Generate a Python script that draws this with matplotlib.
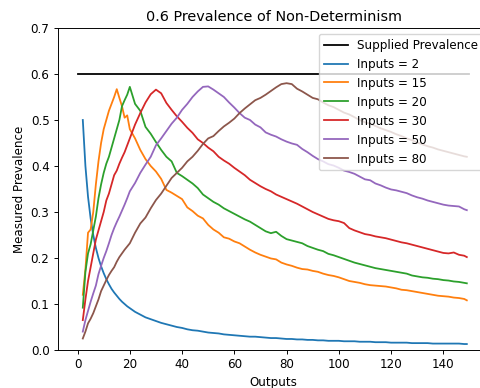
import matplotlib
matplotlib.use("Agg")
import matplotlib.pyplot as plt

# outputs (x axis) shared by every measured series
outputs = [2, 3, 4, 5, 6, 7, 8, 9, 10, 11,
           12, 13, 14, 15, 16, 17, 18, 19, 20, 22,
           24, 26, 28, 30, 32, 34, 36, 38, 40, 42,
           44, 46, 48, 50, 52, 54, 56, 58, 60, 62,
           64, 66, 68, 70, 72, 74, 76, 78, 80, 82,
           84, 86, 88, 90, 92, 94, 96, 98, 100, 102,
           104, 106, 108, 110, 112, 114, 116, 118, 120, 122,
           124, 126, 128, 130, 132, 134, 136, 138, 140, 142,
           144, 146, 148, 149]

supplied_x = [0, 150]
supplied_y = [0.6, 0.6]

inputs_2 = [.500, .400, .333, .286, .250, .222, .200, .182, .167, .154,
            .143, .133, .125, .118, .111, .105, .100, .095, .091, .083,
            .077, .071, .067, .063, .059, .056, .053, .050, .048, .045,
            .043, .042, .040, .038, .037, .036, .034, .033, .032, .031,
            .030, .029, .029, .028, .027, .026, .026, .025, .024, .024,
            .023, .023, .022, .022, .021, .021, .020, .020, .020, .019,
            .019, .019, .018, .018, .018, .017, .017, .017, .016, .016,
            .016, .016, .015, .015, .015, .015, .014, .014, .014, .014,
            .014, .014, .013, .013]

inputs_15 = [.120, .175, .255, .262, .300, .360, .410, .450, .480, .500,
             .520, .535, .550, .567, .548, .530, .505, .510, .480, .460,
             .435, .415, .400, .388, .372, .348, .342, .335, .328, .310,
             .302, .292, .286, .272, .262, .255, .245, .242, .236, .232,
             .225, .218, .212, .207, .203, .199, .197, .190, .186, .183,
             .179, .176, .175, .172, .170, .166, .163, .161, .158, .154,
             .150, .148, .146, .143, .141, .140, .139, .138, .136, .134,
             .131, .130, .128, .126, .124, .122, .120, .118, .117, .116,
             .114, .113, .111, .108]

inputs_20 = [.092, .170, .210, .230, .260, .290, .330, .360, .385, .405,
             .420, .440, .460, .480, .500, .530, .543, .555, .572, .535,
             .520, .485, .470, .452, .435, .420, .410, .385, .378, .370,
             .362, .352, .338, .330, .322, .316, .308, .302, .296, .290,
             .284, .279, .272, .265, .258, .254, .257, .248, .241, .238,
             .235, .232, .226, .222, .218, .215, .209, .206, .202, .198,
             .194, .190, .187, .184, .181, .178, .176, .174, .172, .170,
             .168, .166, .162, .160, .158, .157, .155, .154, .152, .151,
             .149, .148, .146, .145]

inputs_30 = [.065, .110, .150, .180, .210, .240, .260, .280, .300, .325,
             .340, .360, .380, .390, .405, .418, .430, .445, .460, .490,
             .515, .538, .556, .566, .558, .537, .522, .508, .496, .483,
             .472, .458, .450, .440, .432, .420, .412, .405, .396, .388,
             .380, .370, .363, .356, .350, .345, .338, .333, .328, .323,
             .318, .312, .306, .300, .295, .290, .285, .282, .280, .276,
             .265, .260, .256, .252, .250, .247, .245, .243, .240, .237,
             .234, .232, .229, .226, .223, .220, .217, .214, .211, .210,
             .212, .207, .205, .202]

inputs_50 = [.040, .065, .085, .105, .123, .140, .165, .183, .200, .215,
             .232, .250, .265, .278, .290, .303, .316, .330, .345, .363,
             .385, .403, .420, .445, .460, .476, .492, .505, .522, .535,
             .550, .562, .572, .573, .566, .558, .550, .538, .527, .515,
             .505, .500, .490, .484, .473, .468, .464, .458, .453, .449,
             .446, .437, .430, .422, .415, .410, .404, .401, .396, .390,
             .387, .383, .377, .371, .369, .362, .358, .353, .349, .347,
             .344, .341, .336, .332, .329, .325, .322, .319, .316, .314,
             .313, .312, .306, .304]

inputs_80 = [.025, .040, .058, .068, .080, .095, .110, .128, .140, .152,
             .163, .172, .180, .192, .202, .210, .218, .225, .232, .255,
             .275, .288, .308, .326, .340, .357, .374, .385, .396, .410,
             .420, .433, .448, .460, .465, .476, .486, .494, .503, .515,
             .525, .534, .543, .548, .555, .563, .571, .578, .580, .578,
             .568, .562, .555, .548, .545, .538, .532, .528, .522, .516,
             .512, .506, .500, .495, .492, .487, .482, .478, .474, .469,
             .465, .460, .456, .451, .447, .443, .440, .436, .433, .430,
             .427, .424, .421, .420]

series = [("Inputs = 2", inputs_2), ("Inputs = 15", inputs_15),
          ("Inputs = 20", inputs_20), ("Inputs = 30", inputs_30),
          ("Inputs = 50", inputs_50), ("Inputs = 80", inputs_80)]

# the reference looks like a default figure shrunk to ~86%
k = 0.86
plt.rcParams.update({
    "font.size": 10 * k,
    "lines.linewidth": 1.5 * k,
    "axes.linewidth": 0.8 * k,
    "xtick.major.size": 3.5 * k, "ytick.major.size": 3.5 * k,
    "xtick.major.width": 0.8 * k, "ytick.major.width": 0.8 * k,
    "xtick.major.pad": 3.5 * k, "ytick.major.pad": 3.5 * k,
    "axes.titlepad": 6 * k,
    "axes.labelpad": 4 * k,
    "legend.fontsize": 10 * k,
})

fig = plt.figure(figsize=(4.8, 3.88), dpi=100)
# axes run past the right edge, like the cropped original
ax = fig.add_axes([0.1208, 0.0979, 0.898, 0.830])

ax.plot(supplied_x, supplied_y, color="black", label="Supplied Prevalence")
for name, vals in series:
    ax.plot(outputs, vals, label=name)

ax.set_ylim(0, 0.7)
ax.set_title("0.6 Prevalence of Non-Determinism", fontsize=12 * k)
ax.set_xlabel("Outputs")
ax.set_ylabel("Measured Prevalence")
ax.legend(loc="upper right")

fig.savefig("out.png", dpi=100)
